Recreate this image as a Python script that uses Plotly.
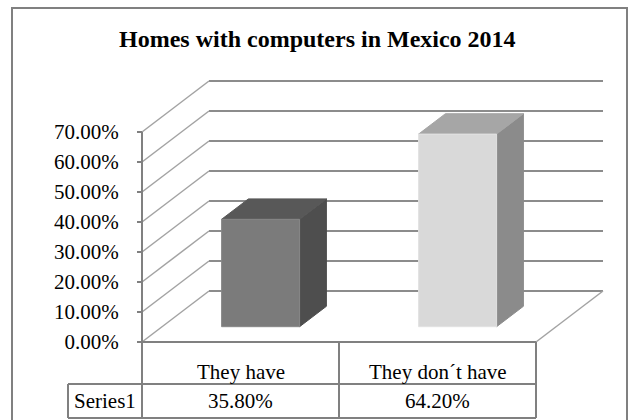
import plotly.graph_objects as go

# ---- data -----------------------------------------------------------------
title = "Homes with computers in Mexico 2014"
categories = ["They have", "They don\u00b4t have"]
series_name = "Series1"
values = [0.358, 0.642]
tick_values = [0, 0.1, 0.2, 0.3, 0.4, 0.5, 0.6, 0.7]

# ---- layout geometry (pixels on a 635x420 canvas) -------------------------
W, H = 635, 420
PX_PER_UNIT = 300.0      # pixels per 100 % on the value axis
ZERO_ROW = 342           # pixel row of the 0 % level on the front plane
AXIS_X = 142             # x of the value axis
CAT_W = 197              # width of one category slot / table column
DEPTH_DX = 67            # oblique depth offset (pixels, horizontal)
DEPTH_DY_PX = 51         # oblique depth offset (pixels, vertical)
BAR_W = 78
BAR_D0, BAR_D1 = 0.3, 0.7  # bar front / back as fraction of the depth
LABEL_BOX_X = 68
ROW1_BOTTOM, ROW2_BOTTOM = 384, 418
ROW1_TEXT, ROW2_TEXT = 372, 401

FONT = "Liberation Serif"
GRID = "#8c8c8c"
SIDE_GRID = "#a3a3a3"
TABLE = "#808080"

BAR_COLORS = [
    dict(front="#7b7b7b", edge="#888888", side="#4e4e4e", top="#585858"),
    dict(front="#d9d9d9", edge="#e2e2e2", side="#8b8b8b", top="#a6a6a6"),
]


def yv(row):
    """Pixel row -> value-axis units."""
    return (ZERO_ROW - row) / PX_PER_UNIT


DEPTH_DY = DEPTH_DY_PX / PX_PER_UNIT
FLOOR_RIGHT = AXIS_X + CAT_W * len(categories)


def proj(x, v, d):
    """Oblique projection of (x, value, depth) onto the chart plane."""
    return x + d * DEPTH_DX, v + d * DEPTH_DY


def polyline(segments):
    xs, ys = [], []
    for seg in segments:
        for (x, y) in seg:
            xs.append(x)
            ys.append(y)
        xs.append(None)
        ys.append(None)
    return xs, ys


fig = go.Figure()

# back wall gridlines
segs = [[proj(AXIS_X, t, 1), proj(FLOOR_RIGHT, t, 1)] for t in tick_values]
xs, ys = polyline(segs)
fig.add_trace(go.Scatter(x=xs, y=ys, mode="lines",
                         line=dict(color=GRID, width=2), hoverinfo="skip"))

# side wall gridlines (diagonals from each tick)
segs = [[(AXIS_X, t), proj(AXIS_X, t, 1)] for t in tick_values]
# right edge of the floor
segs.append([(FLOOR_RIGHT, 0), proj(FLOOR_RIGHT, 0, 1)])
xs, ys = polyline(segs)
fig.add_trace(go.Scatter(x=xs, y=ys, mode="lines",
                         line=dict(color=SIDE_GRID, width=1.5), hoverinfo="skip"))

# bars
for i, v in enumerate(values):
    cx = AXIS_X + CAT_W * (i + 0.5)
    l, r = cx - BAR_W / 2, cx + BAR_W / 2
    c = BAR_COLORS[i]
    faces = [
        ([proj(r, 0, BAR_D0), proj(r, 0, BAR_D1), proj(r, v, BAR_D1), proj(r, v, BAR_D0)],
         c["side"], c["side"]),
        ([proj(l, v, BAR_D0), proj(r, v, BAR_D0), proj(r, v, BAR_D1), proj(l, v, BAR_D1)],
         c["top"], c["top"]),
        ([proj(l, 0, BAR_D0), proj(r, 0, BAR_D0), proj(r, v, BAR_D0), proj(l, v, BAR_D0)],
         c["front"], c["edge"]),
    ]
    for pts, fill, edge in faces:
        px = [p[0] for p in pts] + [pts[0][0]]
        py = [p[1] for p in pts] + [pts[0][1]]
        fig.add_trace(go.Scatter(x=px, y=py, mode="lines", fill="toself",
                                 fillcolor=fill, line=dict(color=edge, width=1),
                                 hoverinfo="skip"))

# axis line, floor front edge and data table grid
segs = [
    [(AXIS_X, max(tick_values)), (AXIS_X, yv(ROW2_BOTTOM))],
    [(AXIS_X, 0), (FLOOR_RIGHT, 0)],
    [(LABEL_BOX_X, yv(ROW1_BOTTOM)), (FLOOR_RIGHT, yv(ROW1_BOTTOM))],
    [(LABEL_BOX_X, yv(ROW2_BOTTOM)), (FLOOR_RIGHT, yv(ROW2_BOTTOM))],
    [(LABEL_BOX_X, yv(ROW1_BOTTOM)), (LABEL_BOX_X, yv(ROW2_BOTTOM))],
]
for k in range(1, len(categories) + 1):
    x = AXIS_X + CAT_W * k
    segs.append([(x, 0), (x, yv(ROW2_BOTTOM))])
xs, ys = polyline(segs)
fig.add_trace(go.Scatter(x=xs, y=ys, mode="lines",
                         line=dict(color=TABLE, width=2), hoverinfo="skip"))

# table text
annotations = []
txt = dict(size=21, family=FONT, color="black")
for i, (cat, v) in enumerate(zip(categories, values)):
    cx = AXIS_X + CAT_W * (i + 0.5)
    annotations.append(dict(x=cx, y=yv(ROW1_TEXT), text=cat, showarrow=False,
                            xref="x", yref="y", font=txt))
    annotations.append(dict(x=cx, y=yv(ROW2_TEXT), text=f"{v:.2%}", showarrow=False,
                            xref="x", yref="y", font=txt))
annotations.append(dict(x=(LABEL_BOX_X + AXIS_X) / 2, y=yv(ROW2_TEXT), text=series_name,
                        showarrow=False, xref="x", yref="y", font=txt))
annotations.append(dict(x=0.5, y=yv(39), text=f"<b>{title}</b>", showarrow=False,
                        xref="paper", yref="y",
                        font=dict(size=24, family=FONT, color="black")))

fig.update_layout(
    width=W, height=H, autosize=False,
    margin=dict(l=0, r=0, t=0, b=0),
    paper_bgcolor="white", plot_bgcolor="white",
    showlegend=False,
    font=dict(family=FONT, color="black"),
    annotations=annotations,
    shapes=[dict(type="rect", xref="x", yref="y",
                 x0=12, x1=627, y0=yv(8), y1=yv(H + 4),
                 line=dict(color=TABLE, width=2))],
    xaxis=dict(range=[0, W], visible=False, fixedrange=True),
    yaxis=dict(range=[yv(H), yv(0)], anchor="free", position=AXIS_X / W,
               showgrid=False, zeroline=False, showline=False,
               tickvals=tick_values, tickformat=".2%",
               ticks="outside", ticklen=5, tickwidth=1.5, tickcolor=TABLE,
               ticklabelstandoff=14,
               tickfont=dict(size=21, family=FONT, color="black"),
               fixedrange=True),
)

fig.write_html("out.html")
